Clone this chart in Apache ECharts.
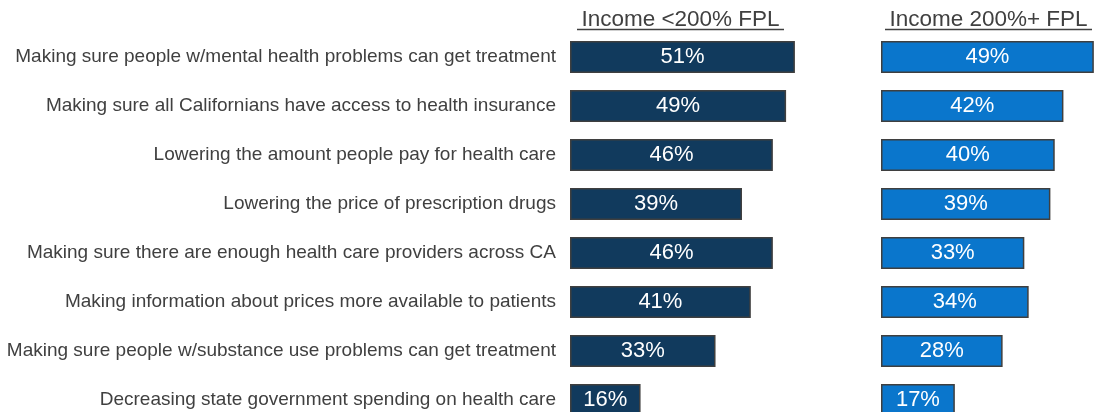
<!DOCTYPE html>
<html>
<head>
<meta charset="utf-8">
<script src="https://cdn.jsdelivr.net/npm/echarts@6/dist/echarts.min.js"></script>
<style>
  html, body { margin: 0; padding: 0; background: #ffffff; overflow: hidden; }
  /* the last row runs past the bottom edge of the view, so the canvas is a bit taller */
  #chart { width: 1096px; height: 430px; }
</style>
</head>
<body>
<div id="chart"></div>
<script>
// Health care priorities by household income
const categories = [
  'Making sure people w/mental health problems can get treatment',
  'Making sure all Californians have access to health insurance',
  'Lowering the amount people pay for health care',
  'Lowering the price of prescription drugs',
  'Making sure there are enough health care providers across CA',
  'Making information about prices more available to patients',
  'Making sure people w/substance use problems can get treatment',
  'Decreasing state government spending on health care'
];
const lowIncome = [51, 49, 46, 39, 46, 41, 33, 16];
const highIncome = [49, 42, 40, 39, 33, 34, 28, 17];
const groupTitles = ['Income <200% FPL', 'Income 200%+ FPL'];

const textFont = '"Liberation Sans", Arial, sans-serif';
const darkBlue = '#113a5d';
const lightBlue = '#0a76cc';
const edge = '#3f3f3f';

const chart = echarts.init(document.getElementById('chart'));

function barSeries(idx, data, color) {
  return {
    type: 'bar',
    xAxisIndex: idx,
    yAxisIndex: idx,
    data: data,
    barWidth: 32,
    itemStyle: { color: color, borderColor: edge, borderWidth: 1.5 },
    label: {
      show: true,
      position: 'inside',
      color: '#ffffff',
      fontFamily: textFont,
      fontSize: 22,
      formatter: p => p.value + '%'
    },
    silent: true
  };
}

chart.setOption({
  animation: false,
  grid: [
    { left: 570, top: 32.5, width: 264.6, height: 392 },
    { left: 881, top: 32.5, width: 215, height: 392 }
  ],
  xAxis: [
    { gridIndex: 0, type: 'value', min: 0, max: 60, show: false },
    { gridIndex: 1, type: 'value', min: 0, max: 49.5, show: false }
  ],
  yAxis: [
    {
      gridIndex: 0, type: 'category', data: categories, inverse: true,
      axisLine: { show: false }, axisTick: { show: false },
      axisLabel: { color: '#404040', fontFamily: textFont, fontSize: 19, margin: 14 }
    },
    {
      gridIndex: 1, type: 'category', data: categories, inverse: true,
      axisLine: { show: false }, axisTick: { show: false },
      axisLabel: { show: false }
    }
  ],
  series: [
    barSeries(0, lowIncome, darkBlue),
    barSeries(1, highIncome, lightBlue)
  ],
  graphic: [
    {
      type: 'text', x: 680.5, y: 20,
      style: { text: groupTitles[0], fill: '#404040', font: '22.5px ' + textFont, align: 'center', verticalAlign: 'middle' }
    },
    { type: 'line', shape: { x1: 577, y1: 29.5, x2: 784, y2: 29.5 }, style: { stroke: '#404040', lineWidth: 1.3 } },
    {
      type: 'text', x: 988.5, y: 20,
      style: { text: groupTitles[1], fill: '#404040', font: '22.5px ' + textFont, align: 'center', verticalAlign: 'middle' }
    },
    { type: 'line', shape: { x1: 885, y1: 29.5, x2: 1092, y2: 29.5 }, style: { stroke: '#404040', lineWidth: 1.3 } }
  ]
});
</script>
</body>
</html>
